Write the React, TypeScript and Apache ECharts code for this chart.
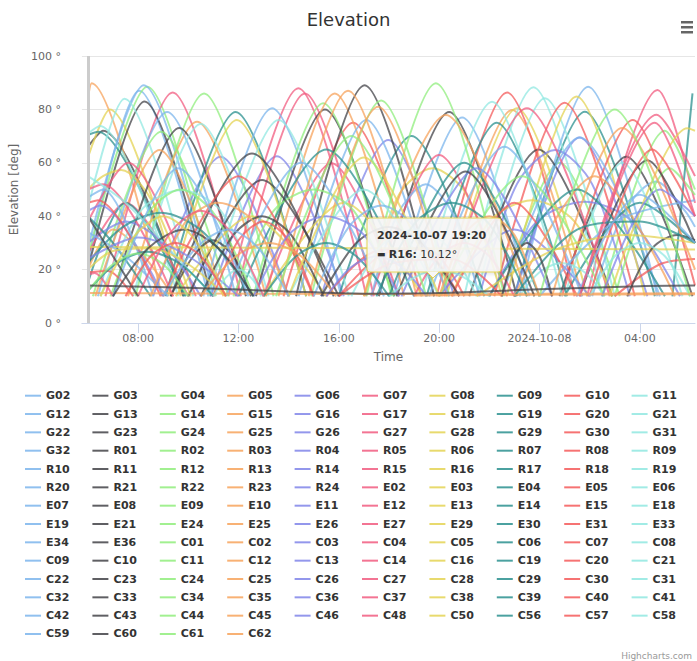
import React, { useEffect, useRef } from 'react';
import * as echarts from 'echarts';

// Highcharts default palette (series colour = index % 10)
const palette = ['#7cb5ec', '#434348', '#90ed7d', '#f7a35c', '#8085e9', '#f15c80', '#e4d354', '#2b908f', '#f45b5b', '#91e8e1'];

// x = hours since 2024-10-07 00:00, y = elevation [deg]; each inner list is one pass
type Track = [string, number[][][]];

const gps: Track[] = [
  ['G02', [[[6.0, 22], [8.05, 87], [10.8, 10]], [[18.2, 10], [20.92, 77], [23.6, 10]]]],
  ['G03', [[[6.0, 66], [6.6, 72], [9.8, 10]], [[17.6, 10], [20.4, 79], [23.1, 10]]]],
  ['G04', [[[6.0, 25], [8.37, 88.5], [11.1, 10]], [[22.5, 10], [24.8, 60], [27.2, 10]]]],
  ['G05', [[[6.0, 84], [6.15, 89.8], [8.95, 10]], [[20.1, 10], [22.91, 79.8], [25.7, 10]]]],
  ['G06', [[[8.6, 10], [11.29, 62.3], [14.0, 10]]]],
  ['G07', [[[6.7, 10], [9.38, 86.3], [12.1, 10]], [[25.9, 10], [28.71, 87.3], [30.2, 45]]]],
  ['G08', [[[6.0, 62], [6.87, 80], [9.7, 10]], [[20.3, 10], [23.1, 80.4], [25.9, 10]]]],
  ['G09', [[[6.0, 70.4], [6.4, 71.6], [9.84, 10]], [[23.0, 10], [25.81, 79.1], [28.6, 10]]]],
  ['G10', [[[13.8, 10], [16.57, 75], [19.3, 10]]]],
  ['G11', [[[6.0, 71], [6.47, 73.8], [9.6, 10]], [[21.0, 10], [23.76, 88.3], [26.5, 10]]]],
  ['G12', [[[6.0, 28], [8.23, 89], [11.0, 10]], [[23.2, 10], [25.94, 88.5], [28.7, 10]]]],
  ['G13', [[[6.0, 20], [8.26, 83], [10.9, 10]], [[24.8, 10], [27.46, 62.3], [30.1, 10]]]],
  ['G14', [[[7.9, 10], [10.63, 86], [13.4, 10]]]],
  ['G15', [[[7.6, 10], [10.35, 75.4], [13.1, 10]]]],
  ['G16', [[[10.9, 10], [13.53, 62.5], [16.2, 10]], [[23.0, 10], [25.6, 69.5], [28.3, 10]]]],
  ['G17', [[[11.6, 10], [14.39, 87.9], [17.1, 10]]]],
  ['G18', [[[6.0, 50], [6.6, 55], [7.33, 57.3], [8.6, 45], [10.1, 10]]]],
  ['G19', [[[9.1, 10], [11.89, 79], [14.7, 10]]]],
  ['G20', [[[19.9, 10], [22.71, 86.3], [25.4, 10]]]],
  ['G21', [[[6.0, 43], [7.46, 84], [10.2, 10]], [[21.5, 10], [24.22, 84.2], [27.0, 10]]]],
  ['G22', [[[6.4, 10], [9.16, 79], [11.9, 10]], [[26.1, 10], [27.4, 42], [28.64, 53], [29.8, 42], [30.2, 36]]]],
  ['G23', [[[7.0, 10], [9.64, 73], [12.3, 10]], [[21.2, 10], [23.96, 65], [26.9, 10]]]],
  ['G24', [[[6.2, 10], [8.92, 71.6], [11.6, 10]], [[26.5, 10], [29.0, 72], [30.2, 50]]]],
  ['G25', [[[6.3, 10], [8.85, 64.8], [11.4, 10]]]],
  ['G26', [[[15.3, 10], [17.97, 68.5], [20.6, 10]]]],
  ['G27', [[[11.9, 10], [14.65, 86], [17.4, 10]]]],
  ['G28', [[[9.2, 10], [11.94, 76], [14.7, 10]], [[22.7, 10], [25.48, 84.8], [28.2, 10]]]],
  ['G29', [[[29.3, 10], [30.1, 86]]]],
  ['G30', [[[22.2, 10], [25.0, 82.5], [27.8, 10]]]],
  ['G31', [[[7.8, 10], [10.5, 74.5], [13.2, 10]]]],
  ['G32', [[[10.6, 10], [13.34, 80.4], [16.1, 10]]]],
];

const glonass: Track[] = [
  ['R01', [[[12.7, 10], [15.45, 80], [18.2, 10]]]],
  ['R02', [[[12.6, 10], [15.38, 82.3], [18.1, 10]]]],
  ['R03', [[[13.1, 10], [15.84, 86], [18.6, 10]]]],
  ['R04', [[[21.6, 10], [23.1, 52], [24.62, 64.8], [26.1, 52], [27.6, 10]]]],
  ['R05', [[[6.0, 26], [7.5, 45], [10.0, 10]], [[13.0, 10], [15.71, 59.8], [18.4, 10]]]],
  ['R06', [[[17.0, 10], [18.4, 48], [19.74, 58], [21.1, 48], [22.5, 10]]]],
  ['R07', [[[16.0, 10], [18.9, 70], [21.8, 10]]]],
  ['R08', [[[24.9, 10], [27.72, 76], [30.2, 14]]]],
  ['R09', [[[10.8, 10], [13.6, 76], [16.4, 10]], [[25.0, 10], [27.3, 60], [29.7, 10]]]],
  ['R10', [[[14.4, 10], [17.1, 76], [19.8, 10]]]],
  ['R11', [[[14.3, 10], [17.03, 89], [19.8, 10]]]],
  ['R12', [[[14.9, 10], [17.69, 83.3], [20.4, 10]], [[27.0, 10], [29.2, 58], [30.2, 48]]]],
  ['R13', [[[6.0, 20], [7.0, 35], [9.4, 10]], [[13.6, 10], [16.37, 87], [19.1, 10]]]],
  ['R14', [[[22.0, 10], [23.9, 38], [25.81, 45.4], [27.7, 38], [29.6, 10]]]],
  ['R15', [[[6.0, 38], [7.6, 60], [10.3, 10]], [[17.3, 10], [20.0, 62.9], [22.7, 10]]]],
  ['R16', [[[13.0, 10], [16.2, 45], [19.33, 10.12]]]],
  ['R17', [[[6.0, 15], [7.5, 45], [9.9, 10]], [[19.5, 10], [22.3, 75], [25.1, 10]]]],
  ['R18', [[[15.5, 10], [17.5, 27], [19.5, 28], [21.0, 10]]]],
  ['R19', [[[19.3, 10], [22.11, 82.9], [24.9, 10]]]],
  ['R20', [[[17.3, 10], [18.3, 40], [19.47, 52], [20.6, 40], [21.6, 10]]]],
  ['R21', [[[9.3, 10], [10.2, 25], [10.97, 31], [11.8, 25], [12.5, 10]], [[25.6, 10], [28.31, 61], [30.2, 30]]]],
  ['R22', [[[17.1, 10], [19.87, 89.8], [22.6, 10]]]],
  ['R23', [[[14.8, 10], [17.57, 81], [20.3, 10]]]],
  ['R24', [[[6.0, 42], [6.5, 44], [9.0, 10]]]],
];

const galileo: Track[] = [
  ['E02', [[[20.2, 10], [23.5, 80.4], [26.8, 10]]]],
  ['E03', [[[20.5, 10], [22.0, 38], [23.7, 46], [25.4, 38], [26.9, 10]]]],
  ['E04', [[[12.0, 10], [15.5, 65], [19.0, 10]], [[25.0, 10], [28.0, 45], [30.2, 30]]]],
  ['E05', [[[16.0, 10], [17.8, 26], [19.3, 27.5], [20.8, 10]]]],
  ['E06', [[[6.5, 10], [8.1, 42], [9.71, 49.8], [11.3, 42], [12.9, 10]]]],
  ['E07', [[[22.5, 10], [25.6, 69.5], [28.8, 10]]]],
  ['E08', [[[9.3, 10], [12.54, 63.5], [15.8, 10]]]],
  ['E09', [[[11.8, 10], [13.4, 42], [15.0, 50], [16.6, 42], [18.2, 10]]]],
  ['E10', [[[17.0, 10], [20.27, 77.9], [23.5, 10]]]],
  ['E11', [[[6.0, 30], [7.5, 38], [9.0, 30], [10.5, 10]], [[20.0, 10], [23.0, 35], [26.0, 10]]]],
  ['E12', [[[25.6, 10], [28.67, 78], [30.2, 55]]]],
  ['E13', [[[26.8, 10], [29.9, 72.9], [30.2, 72]]]],
  ['E14', [[[6.0, 40], [7.0, 30], [8.5, 10]], [[18.0, 10], [21.0, 60], [24.0, 10]]]],
  ['E15', [[[6.0, 45], [6.4, 46], [8.9, 10]], [[20.5, 10], [23.0, 45], [25.5, 10]]]],
  ['E18', [[[23.2, 10], [24.0, 19], [24.87, 22.5], [25.8, 19], [26.6, 10]]]],
  ['E19', [[[6.0, 47], [6.6, 50], [8.6, 10]]]],
  ['E21', [[[10.0, 10], [12.94, 53.6], [16.0, 10]]]],
  ['E24', [[[6.9, 10], [8.3, 40], [9.7, 50], [11.1, 40], [12.6, 10]]]],
  ['E25', [[[23.0, 10], [26.2, 55], [29.4, 10]]]],
  ['E26', [[[18.5, 10], [21.5, 58], [24.5, 10]]]],
  ['E27', [[[6.0, 50], [6.6, 52], [9.4, 10]]]],
  ['E29', [[[9.5, 10], [12.5, 40], [15.5, 10]]]],
  ['E30', [[[22.0, 10], [25.5, 50], [29.0, 10]]]],
  ['E31', [[[9.0, 10], [12.0, 55], [15.0, 10]]]],
  ['E33', [[[14.0, 10], [17.0, 50], [20.0, 10]]]],
  ['E34', [[[11.5, 10], [14.5, 60], [17.8, 10]]]],
  ['E36', [[[10.5, 10], [11.8, 33], [12.94, 40], [14.1, 33], [15.4, 10]]]],
];

// GEO satellites C01, C03, C04, C59, C61 stay below the 10° mask: no points
const beidou: Track[] = [
  ['C01', []],
  ['C02', [[[6.0, 11.2], [18.0, 10.9], [30.2, 11.1]]]],
  ['C03', []],
  ['C04', []],
  ['C05', [[[6.0, 28.5], [18.0, 28.0], [30.2, 27.5]]]],
  ['C06', [[[6.0, 22.5], [7.4, 36], [8.92, 41.3], [10.6, 34], [12.6, 10]]]],
  ['C07', [[[6.0, 19], [6.8, 19.5], [7.8, 10]], [[27.0, 10], [28.8, 22], [30.2, 24]]]],
  ['C08', [[[6.0, 55], [7.5, 45], [9.5, 25], [11.0, 10]]]],
  ['C09', [[[6.0, 34], [7.5, 25], [9.2, 10]], [[24.0, 10], [27.0, 38], [30.2, 46]]]],
  ['C10', [[[15.3, 10], [16.7, 30], [17.97, 36], [19.3, 30], [20.8, 10]], [[27.5, 10], [28.5, 28], [29.5, 33], [30.2, 31]]]],
  ['C11', [[[20.0, 10], [23.3, 55], [26.6, 10]]]],
  ['C12', [[[8.5, 10], [9.9, 38], [11.2, 45], [12.6, 38], [14.0, 10]]]],
  ['C13', [[[6.0, 24], [8.0, 32], [10.0, 25], [12.0, 10]]]],
  ['C14', [[[6.0, 18], [6.27, 18.7], [7.0, 10]]]],
  ['C16', [[[6.0, 20], [7.0, 27], [8.5, 28], [10.0, 22], [11.5, 10]]]],
  ['C19', [[[6.0, 12], [7.1, 22], [8.37, 26.7], [9.7, 22], [11.0, 10]]]],
  ['C20', [[[11.0, 10], [12.0, 31], [13.0, 38], [14.0, 31], [15.0, 10]]]],
  ['C21', [[[16.5, 10], [17.7, 29], [19.0, 35], [20.3, 29], [21.5, 10]]]],
  ['C22', [[[7.0, 10], [9.6, 58], [12.4, 10]], [[19.6, 10], [22.6, 66], [25.7, 10]]]],
  ['C23', [[[18.3, 10], [21.05, 56.7], [23.8, 10]]]],
  ['C24', [[[6.0, 12], [7.0, 22], [8.0, 26], [9.0, 22], [10.0, 10]]]],
  ['C25', [[[24.5, 10], [27.3, 73], [30.2, 20]]]],
  ['C26', [[[12.6, 10], [14.0, 33], [15.5, 40], [17.0, 33], [18.4, 10]]]],
  ['C27', [[[19.0, 10], [20.0, 25], [21.0, 30], [22.0, 25], [23.0, 10]]]],
  ['C28', [[[14.0, 10], [17.0, 62], [20.0, 10]]]],
  ['C29', [[[13.0, 10], [14.3, 25], [15.5, 30], [16.7, 25], [18.0, 10]]]],
  ['C30', [[[26.0, 10], [28.5, 65], [30.2, 40]]]],
  ['C31', [[[11.0, 10], [11.5, 17], [12.0, 20], [12.5, 17], [13.0, 10]]]],
  ['C32', [[[15.0, 10], [16.4, 36], [17.7, 44], [19.0, 36], [20.4, 10]]]],
  ['C33', [[[7.0, 10], [8.4, 28], [9.84, 35], [11.2, 28], [12.6, 10]]]],
  ['C34', [[[13.5, 10], [16.5, 70], [19.5, 10]]]],
  ['C35', [[[10.5, 10], [11.9, 25], [13.2, 30], [14.5, 25], [15.9, 10]]]],
  ['C36', [[[26.5, 10], [28.8, 50], [30.2, 40]]]],
  ['C37', [[[8.0, 10], [9.3, 34], [10.5, 42], [11.7, 34], [13.0, 10]]]],
  ['C38', [[[21.5, 10], [24.5, 27], [27.5, 33], [30.2, 30]]]],
  ['C39', [[[23.0, 10], [25.5, 35], [28.0, 38], [30.2, 30]]]],
  ['C40', [[[16.0, 10], [18.0, 22], [20.5, 24], [22.5, 10]]]],
  ['C41', [[[26.0, 10], [27.0, 25], [28.0, 30], [29.0, 25], [30.0, 10]]]],
  ['C42', [[[9.0, 10], [10.3, 28], [11.6, 35], [12.8, 28], [14.0, 10]], [[25.5, 10], [28.0, 48], [30.2, 30]]]],
  ['C43', [[[6.0, 40], [7.0, 25], [8.0, 10]], [[22.5, 10], [23.0, 25], [23.5, 30], [24.0, 25], [24.5, 10]]]],
  ['C44', [[[24.0, 10], [27.0, 80], [30.0, 10]]]],
  ['C45', [[[20.0, 10], [21.0, 33], [22.0, 40], [23.0, 33], [24.0, 10]]]],
  ['C46', [[[15.5, 10], [16.5, 21], [17.5, 25], [18.5, 21], [19.5, 10]]]],
  ['C48', [[[25.6, 10], [28.6, 75], [30.2, 40]]]],
  ['C50', [[[6.5, 10], [7.8, 32], [9.0, 40], [10.2, 32], [11.5, 10]]]],
  ['C56', [[[17.5, 10], [19.0, 37], [20.5, 45], [22.0, 37], [23.5, 10]]]],
  ['C57', [[[7.5, 10], [8.5, 25], [9.5, 30], [10.5, 25], [11.5, 10]]]],
  ['C58', [[[18.0, 10], [19.0, 17], [20.0, 20], [21.0, 17], [22.0, 10]]]],
  ['C59', []],
  ['C60', [[[6.0, 14], [10.0, 13.2], [14.0, 11.8], [17.0, 11], [20.0, 11.2], [24.0, 12.6], [28.0, 13.8], [30.2, 14]]]],
  ['C61', []],
  ['C62', [[[19.0, 10.3], [24.0, 10.6], [30.2, 10.8]]]],
];

const xTickValues = [8, 12, 16, 20, 24, 28];
const yTicks = [0, 20, 40, 60, 80, 100];
const legendColumnLeft = [25, 92.4, 159.8, 227.2, 294.6, 362, 429.4, 496.8, 564.2, 631.6];
const startMarker = 6.0;
const tooltipHeader = '2024-10-07 19:20';
const tooltipSeries = 'R16';
const tooltipValue = 10.12;

const FONT = 'DejaVu Sans';

function pad(n: number) {
  return n < 10 ? '0' + n : '' + n;
}

function buildData(passes: number[][][]) {
  const out: any[] = [];
  passes.forEach((p, k) => {
    if (k > 0) out.push([passes[k - 1][passes[k - 1].length - 1][0], '-']);
    p.forEach((pt) => out.push(pt));
  });
  return out;
}

export default function App() {
  const ref = useRef<HTMLDivElement>(null);

  useEffect(() => {
    if (!ref.current) return;
    const chart = echarts.init(ref.current, null, { renderer: 'svg' });
    const tracks = [...gps, ...glonass, ...galileo, ...beidou];
    const names = tracks.map((t) => t[0]);

    const series: any[] = tracks.map((t, i) => ({
      type: 'line',
      name: t[0],
      data: buildData(t[1]),
      color: palette[i % 10],
      symbol: 'none',
      showSymbol: false,
      smooth: 0.3,
      connectNulls: false,
      lineStyle: { width: 2, opacity: 0.75 },
      emphasis: { disabled: true },
      silent: true,
      z: 2,
    }));
    series.push({
      type: 'line',
      name: '__marker',
      data: [],
      silent: true,
      z: 1,
      markLine: {
        silent: true,
        symbol: 'none',
        label: { show: false },
        lineStyle: { color: '#cccccc', width: 3, type: 'solid' },
        data: [{ xAxis: startMarker }],
      },
    });

    const legends = legendColumnLeft.map((left, j) => ({
      orient: 'vertical',
      left,
      top: 388.7,
      padding: 0,
      icon: 'rect',
      itemWidth: 16,
      itemHeight: 2,
      itemGap: 4.33,
      itemStyle: { opacity: 0.85 },
      data: names.filter((_, i) => i % 10 === j),
      textStyle: { fontFamily: FONT, fontWeight: 'bold', fontSize: 11, color: '#333333', lineHeight: 14 },
    }));

    const tipX = 367, tipY = 218, tipW = 134, tipH = 54, arrowX = 433;

    chart.setOption({
      animation: false,
      backgroundColor: '#ffffff',
      textStyle: { fontFamily: FONT },
      title: {
        text: 'Elevation',
        left: 'center',
        top: 5,
        textStyle: { fontFamily: FONT, fontSize: 18, fontWeight: 'normal', color: '#333333' },
      },
      legend: legends,
      grid: { left: 77, right: 2, top: 56, bottom: 338, containLabel: false },
      xAxis: {
        type: 'value',
        min: 5.76,
        max: 30.2,
        name: 'Time',
        nameLocation: 'middle',
        nameGap: 28,
        nameTextStyle: { fontFamily: FONT, fontSize: 12, color: '#666666' },
        axisLine: { show: true, lineStyle: { color: '#ccd6eb', width: 1 } },
        axisTick: { show: true, customValues: xTickValues, length: 10, lineStyle: { color: '#ccd6eb' } },
        axisLabel: {
          customValues: xTickValues,
          margin: 10,
          fontFamily: FONT,
          fontSize: 11,
          color: '#666666',
          formatter: (v: number) => (v === 24 ? '2024-10-08' : pad(v % 24) + ':00'),
        },
        splitLine: { show: false },
      },
      yAxis: {
        type: 'value',
        min: yTicks[0],
        max: yTicks[yTicks.length - 1],
        interval: 20,
        name: 'Elevation [deg]',
        nameLocation: 'middle',
        nameGap: 54,
        nameTextStyle: { fontFamily: FONT, fontSize: 12, color: '#666666' },
        axisLine: { show: false },
        axisTick: { show: false },
        axisLabel: { margin: 21, fontFamily: FONT, fontSize: 11, color: '#666666', formatter: '{value} °' },
        splitLine: { show: true, lineStyle: { color: '#e6e6e6', width: 1 } },
      },
      series,
      graphic: [
        // context menu button
        { type: 'rect', shape: { x: 681, y: 21, width: 12, height: 2.5 }, style: { fill: '#666666' }, z: 100 },
        { type: 'rect', shape: { x: 681, y: 26, width: 12, height: 2.5 }, style: { fill: '#666666' }, z: 100 },
        { type: 'rect', shape: { x: 681, y: 31, width: 12, height: 2.5 }, style: { fill: '#666666' }, z: 100 },
        // credits
        {
          type: 'text',
          x: 692,
          y: 656,
          style: { text: 'Highcharts.com', fontFamily: FONT, fontSize: 9, fill: '#999999', align: 'right', verticalAlign: 'middle' },
          z: 100,
        },
        // tooltip
        {
          type: 'rect',
          shape: { x: tipX, y: tipY, width: tipW, height: tipH, r: 3 },
          style: { fill: 'rgba(247,247,247,0.9)', stroke: palette[6], lineWidth: 1, shadowBlur: 4, shadowColor: 'rgba(0,0,0,0.15)', shadowOffsetX: 1, shadowOffsetY: 1 },
          z: 200,
        },
        {
          type: 'polygon',
          shape: { points: [[arrowX - 6, tipY + tipH - 0.5], [arrowX, tipY + tipH + 6], [arrowX + 6, tipY + tipH - 0.5]] },
          style: { fill: 'rgba(247,247,247,1)' },
          z: 201,
        },
        {
          type: 'polyline',
          shape: { points: [[arrowX - 6, tipY + tipH], [arrowX, tipY + tipH + 6], [arrowX + 6, tipY + tipH]] },
          style: { stroke: palette[6], lineWidth: 1, fill: 'none' },
          z: 202,
        },
        {
          type: 'text',
          x: tipX + 10,
          y: tipY + 17,
          style: { text: tooltipHeader, fontFamily: FONT, fontSize: 11, fontWeight: 'bold', fill: '#333333', verticalAlign: 'middle' },
          z: 203,
        },
        {
          type: 'text',
          x: tipX + 10,
          y: tipY + 36,
          style: {
            text: '{d|▬} {b|' + tooltipSeries + ':} {n|' + tooltipValue.toFixed(2) + '°}',
            verticalAlign: 'middle',
            rich: {
              d: { fontFamily: FONT, fontSize: 9, fill: '#333333' },
              b: { fontFamily: FONT, fontSize: 11, fontWeight: 'bold', fill: '#333333' },
              n: { fontFamily: FONT, fontSize: 11, fill: '#333333' },
            },
          },
          z: 203,
        },
      ],
    });

    return () => chart.dispose();
  }, []);

  return (
    <div
      ref={ref}
      style={{ position: 'absolute', left: 0, top: 0, width: 697, height: 661, background: '#ffffff' }}
    />
  );
}
